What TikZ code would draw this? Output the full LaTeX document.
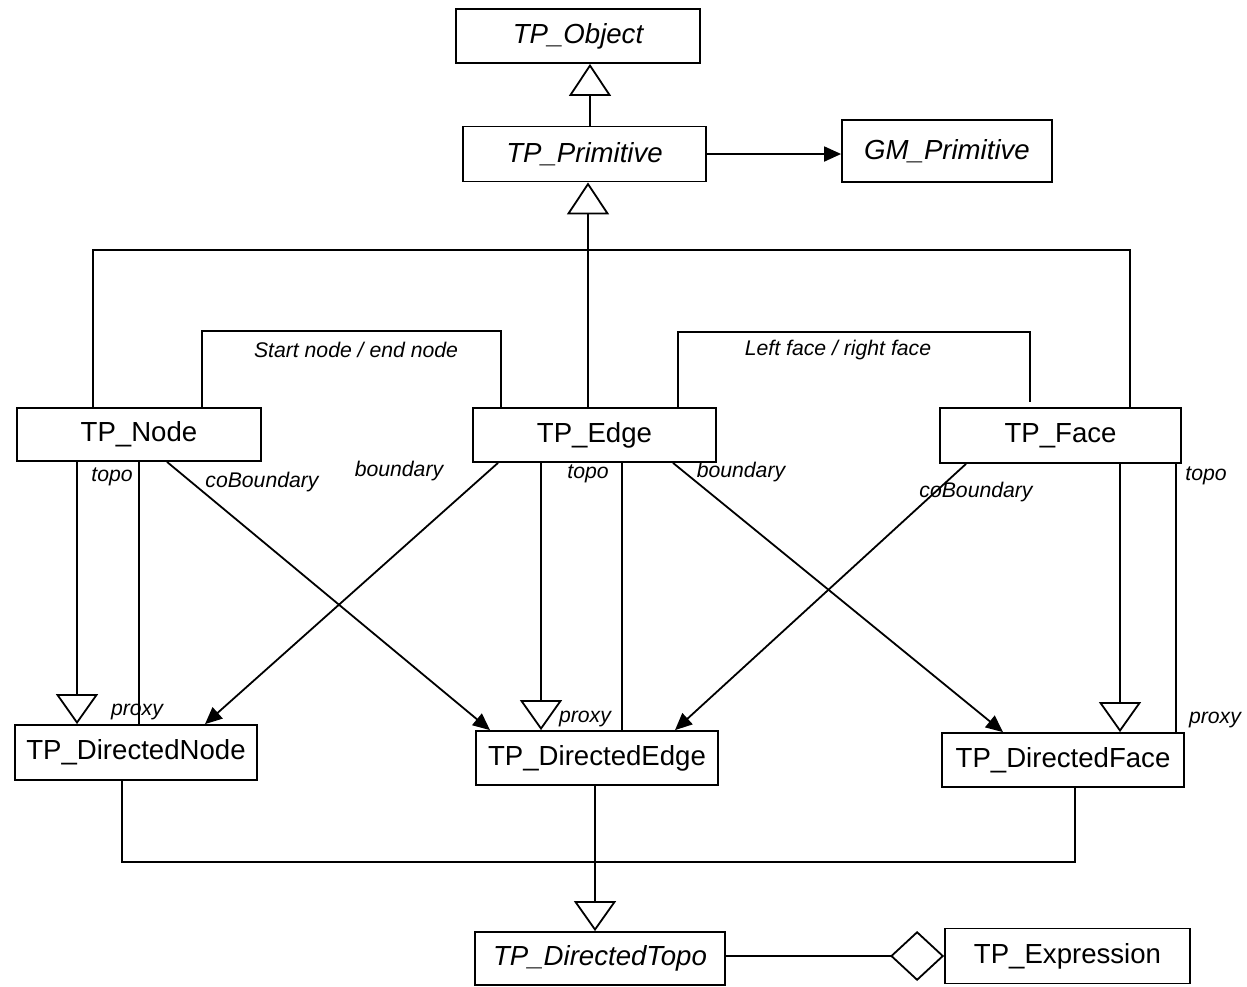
\documentclass[tikz,border=0pt]{standalone}
\usepackage{fontspec}
\setmainfont{Liberation Sans}
\usetikzlibrary{arrows.meta}
\begin{document}
\begin{tikzpicture}[x=0.5pt,y=-0.5pt,
  line width=0.9pt,
  cls/.style={draw, line width=0.9pt, inner sep=0pt, font=\fontsize{13.8}{15}\selectfont},
  abs/.style={cls, font=\fontsize{13.8}{15}\selectfont\itshape},
  lbl/.style={font=\fontsize{10.6}{12}\selectfont\itshape, inner sep=0pt},
  gen/.style={-{Triangle[open,length=16pt,width=21pt]}},
  gensm/.style={-{Triangle[open,length=15pt,width=21pt]}},
  nav/.style={-{Triangle[length=8.5pt,width=7.5pt]}},
  agg/.style={{Diamond[open,length=27pt,width=25pt]}-}]
\useasboundingbox (0,0) rectangle (1247,986);

% classes
\node[abs, minimum width=122pt, minimum height=27pt] (obj)   at (578,36)    {TP\_Object};
\node[abs, minimum width=121.5pt, minimum height=27.5pt] (prim) at (584.5,154) {TP\_Primitive};
\node[abs, minimum width=105pt, minimum height=31pt] (gm)    at (947,151)   {GM\_Primitive};
\node[cls, minimum width=122pt, minimum height=26.5pt] (node)  at (139,434.5) {TP\_Node};
\node[cls, minimum width=121.5pt, minimum height=27pt] (edge)  at (594.5,435) {TP\_Edge};
\node[cls, minimum width=120.5pt, minimum height=27.5pt] (face) at (1060.5,435.5) {TP\_Face};
\node[cls, minimum width=121pt, minimum height=27.5pt] (dnode) at (136,752.5) {TP\_DirectedNode};
\node[cls, minimum width=121pt, minimum height=27pt] (dedge) at (597,758)   {TP\_DirectedEdge};
\node[cls, minimum width=121pt, minimum height=27pt] (dface) at (1063,760)  {TP\_DirectedFace};
\node[abs, minimum width=125pt, minimum height=26.5pt] (dtopo) at (600,958.5) {TP\_DirectedTopo};
\node[cls, minimum width=122.5pt, minimum height=27.5pt] (expr) at (1067.5,956) {TP\_Expression};

% column and bend points
\coordinate (cPrim) at (590,0);
\coordinate (cEdgeUp) at (588,0);
\coordinate (busL) at (93,250);
\coordinate (busR) at (1130,250);
\coordinate (snL) at (202,331);
\coordinate (snR) at (501,331);
\coordinate (lfL) at (678,332);
\coordinate (lfR) at (1030,332);
\coordinate (lfEnd) at (1030,402);
\coordinate (cNtopo) at (77,0);
\coordinate (cNproxy) at (139,0);
\coordinate (cNco) at (167,0);
\coordinate (cEbL) at (498,0);
\coordinate (cEtopo) at (541,0);
\coordinate (cEproxy) at (622,0);
\coordinate (cEbR) at (673,0);
\coordinate (cFco) at (966,0);
\coordinate (cFtopo) at (1120,0);
\coordinate (cFproxy) at (1176,0);
\coordinate (tDN) at (205,0);
\coordinate (tDEl) at (490,0);
\coordinate (tDEr) at (675,0);
\coordinate (tDF) at (1003,0);
\coordinate (lowL) at (122,862);
\coordinate (lowR) at (1075,862);
\coordinate (cTopo) at (595,0);

% inheritance and association at the top
\draw[gen] (prim.north -| cPrim) -- (obj.south -| cPrim);
\draw[nav] (prim.east) -- (prim.east -| gm.west);
\draw[gen] (edge.north -| cEdgeUp) -- (prim.south -| cEdgeUp);
\draw (node.north -| busL) -- (busL) -- (busR) -- (face.north -| busR);

% start/end node and left/right face associations
\draw (node.north -| snL) -- (snL) -- (snR) -- (edge.north -| snR);
\draw (edge.north -| lfL) -- (lfL) -- (lfR) -- (lfEnd);
\node[lbl] (lSN) at (356,350) {Start node / end node};
\node[lbl] (lLF) at (838,350) {Left face / right face};

% TP_Node to directed primitives
\draw[gensm] (node.south -| cNtopo) -- (dnode.north -| cNtopo);
\draw (node.south -| cNproxy) -- (dnode.north -| cNproxy);
\draw[nav] (node.south -| cNco) -- (dedge.north -| tDEl);

% TP_Edge to directed primitives
\draw[nav] (edge.south -| cEbL) -- (dnode.north -| tDN);
\draw[gensm] (edge.south -| cEtopo) -- (dedge.north -| cEtopo);
\draw (edge.south -| cEproxy) -- (dedge.north -| cEproxy);
\draw[nav] (edge.south -| cEbR) -- (dface.north -| tDF);

% TP_Face to directed primitives
\draw[nav] (face.south -| cFco) -- (dedge.north -| tDEr);
\draw[gensm] (face.south -| cFtopo) -- (dface.north -| cFtopo);
\draw (face.south -| cFproxy) -- (dface.north -| cFproxy);

% role names
\node[lbl] (l1) at (112,477) {topo};
\node[lbl] (l2) at (262,482) {coBoundary};
\node[lbl] (l3) at (399,471) {boundary};
\node[lbl] (l4) at (588,474) {topo};
\node[lbl] (l5) at (741,472) {boundary};
\node[lbl] (l6) at (976,492) {coBoundary};
\node[lbl] (l7) at (1206,476) {topo};
\node[lbl] (l8) at (137,712) {proxy};
\node[lbl] (l9) at (585,719) {proxy};
\node[lbl] (l10) at (1215,720) {proxy};

% directed primitives generalise to TP_DirectedTopo
\draw (dnode.south -| lowL) -- (lowL) -- (lowR) -- (dface.south -| lowR);
\draw[gensm] (dedge.south -| cTopo) -- (dtopo.north -| cTopo);

% aggregation
\draw[agg] (expr.west) -- (dtopo.east |- expr.west);
\end{tikzpicture}
\end{document}
